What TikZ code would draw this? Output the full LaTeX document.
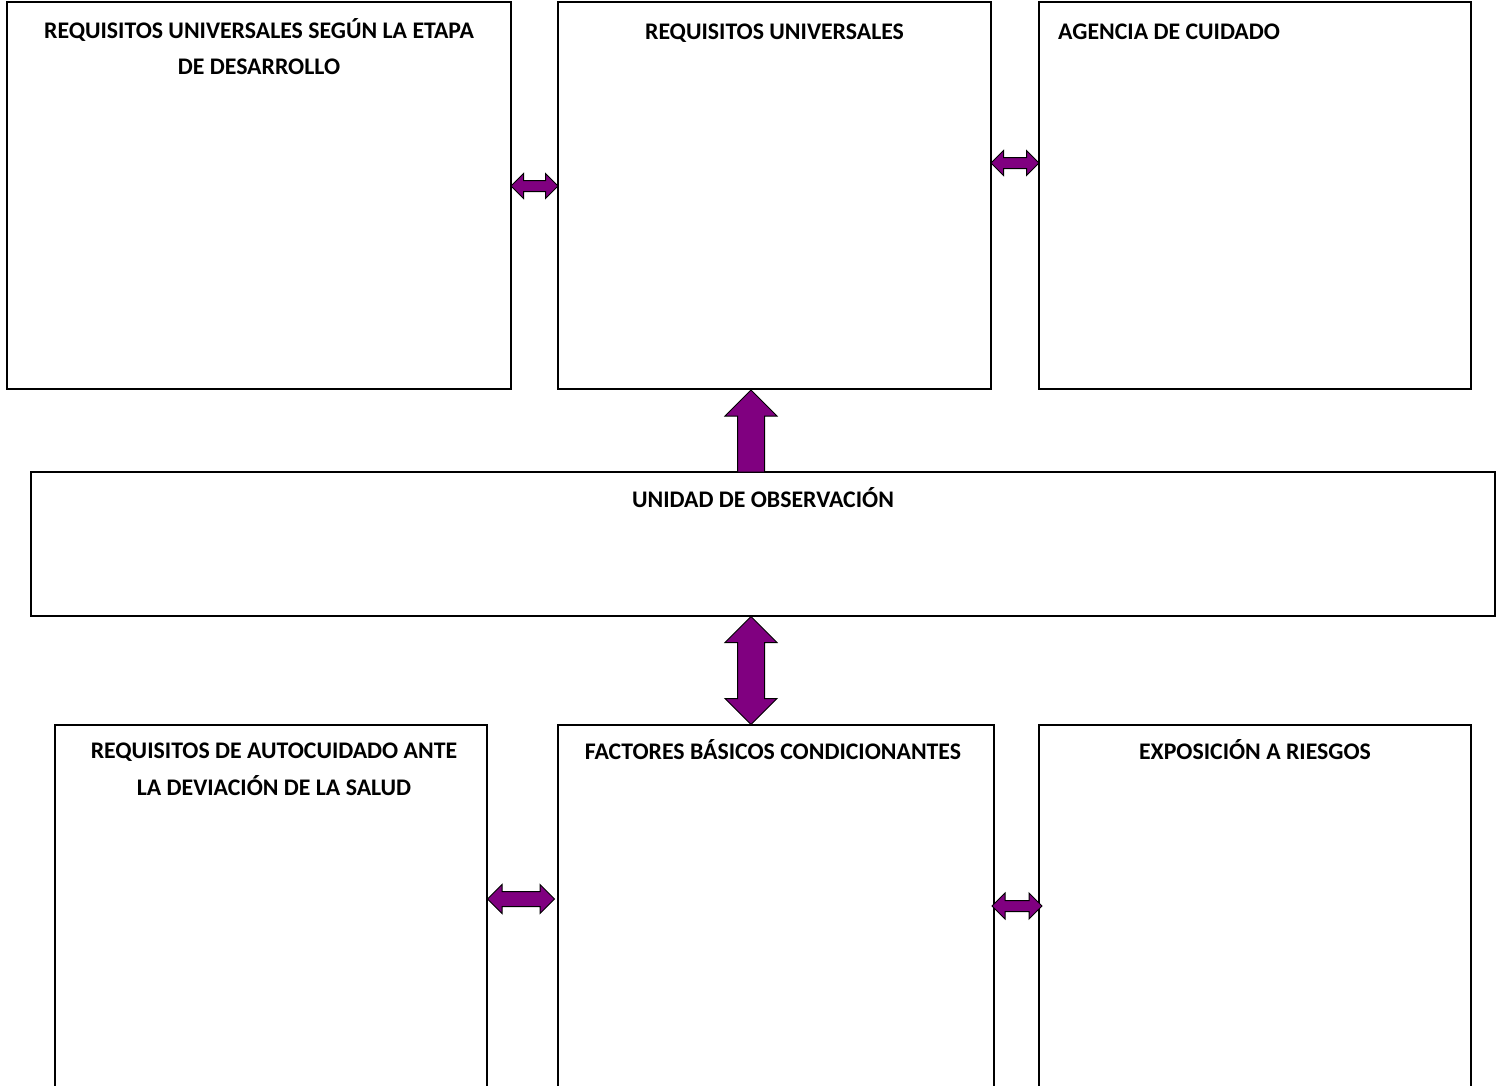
\documentclass[tikz,border=0pt]{standalone}
\usepackage{fontspec}
\setmainfont{Carlito}
\usepackage{tikz}
\usetikzlibrary{calc,positioning,shapes.arrows}
\definecolor{arrowpurple}{RGB}{128,0,128}

\tikzset{
	box/.style={draw, rectangle, line width=1.3pt, inner sep=0pt, outer sep=0pt, anchor=north west},
	ttl/.style={font=\fontsize{23.8}{36.5}\selectfont\bfseries, align=center, inner sep=0pt, anchor=base},
	dblarrow/.style={shape=double arrow, draw=black, fill=arrowpurple, line width=1pt,
		inner sep=0pt, outer sep=0pt, double arrow tip angle=90},
	uparrow/.style={shape=single arrow, draw=black, fill=arrowpurple, line width=1pt,
		inner sep=0pt, outer sep=0pt, single arrow tip angle=90, rotate=90}
}

\begin{document}
\begin{tikzpicture}[x=1pt, y=-1pt]
\useasboundingbox (0,0) rectangle (1505,1085);
\clip (0,0) rectangle (1505,1085);

% Kasten oben
\node[box, minimum width=504, minimum height=387] (b1) at (7,2) {};
\node[box, minimum width=433, minimum height=387] (b2) at (558,2) {};
\node[box, minimum width=432, minimum height=387] (b3) at (1039,2) {};

% Kasten Mitte
\node[box, minimum width=1464, minimum height=144] (bm) at (31,472) {};

% Kasten unten (nach unten offen)
\node[box, minimum width=432, minimum height=420] (b4) at (55,725) {};
\node[box, minimum width=436, minimum height=420] (b5) at (558,725) {};
\node[box, minimum width=432, minimum height=420] (b6) at (1039,725) {};

% Titel (Basislinie der letzten Zeile)
\node[ttl] (t1) at ($(b1.north)+(0,72.5)$) {REQUISITOS UNIVERSALES SEGÚN LA ETAPA\\DE DESARROLLO};
\node[ttl] (t2) at ($(b2.north)+(0,37)$) {REQUISITOS UNIVERSALES};
\node[ttl, anchor=base west] (t3) at ($(b3.north west)+(19,37)$) {AGENCIA DE CUIDADO};
\node[ttl] (tm) at ($(bm.north)+(0,35)$) {UNIDAD DE OBSERVACIÓN};
\node[ttl] (t4) at ($(b4.north)+(3,70)$) {REQUISITOS DE AUTOCUIDADO ANTE\\LA DEVIACIÓN DE LA SALUD};
\node[ttl] (t5) at ($(b5.north)+(-3,34)$) {FACTORES BÁSICOS CONDICIONANTES};
\node[ttl] (t6) at ($(b6.north)+(0,34)$) {EXPOSICIÓN A RIESGOS};

% Pfeile
\coordinate (a1s) at (b1.east |- 0,186);
\coordinate (a1e) at (b2.west |- 0,186);
\node[dblarrow, inner ysep=5, double arrow head extend=7, minimum height=47] (a1) at ($(a1s)!.5!(a1e)$) {};

\coordinate (a2s) at (b2.east |- 0,163);
\coordinate (a2e) at (b3.west |- 0,163);
\node[dblarrow, inner ysep=5, double arrow head extend=7, minimum height=48] (a2) at ($(a2s)!.5!(a2e)$) {};

\coordinate (a3s) at (bm.north -| 751,0);
\coordinate (a3e) at (b2.south -| 751,0);
\node[uparrow, inner ysep=13, single arrow head extend=12.5, minimum height=82, anchor=tail] (a3) at (a3s) {};

\coordinate (a4s) at (bm.south -| 751,0);
\coordinate (a4e) at (b5.north -| 751,0);
\node[dblarrow, rotate=90, inner ysep=13, double arrow head extend=12.5, minimum height=108] (a4) at ($(a4s)!.5!(a4e)$) {};

\coordinate (a5s) at (b4.east |- 0,899);
\coordinate (a5e) at ($(b5.west |- 0,899)+(-3,0)$);
\node[dblarrow, inner ysep=7, double arrow head extend=7, minimum height=67] (a5) at ($(a5s)!.5!(a5e)$) {};

\coordinate (a6s) at ($(b5.east |- 0,906)+(-2,0)$);
\coordinate (a6e) at ($(b6.west |- 0,906)+(3,0)$);
\node[dblarrow, inner ysep=5, double arrow head extend=7.5, minimum height=50] (a6) at ($(a6s)!.5!(a6e)$) {};

\end{tikzpicture}
\end{document}
